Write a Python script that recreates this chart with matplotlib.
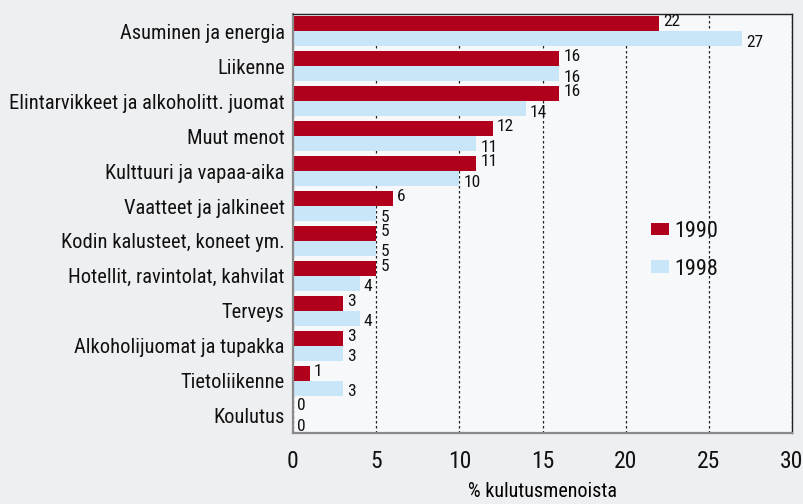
import matplotlib
matplotlib.use("Agg")
import matplotlib.pyplot as plt
from matplotlib import font_manager as fm
import numpy as np

categories = ["Asuminen ja energia", "Liikenne", "Elintarvikkeet ja alkoholitt. juomat",
              "Muut menot", "Kulttuuri ja vapaa-aika", "Vaatteet ja jalkineet",
              "Kodin kalusteet, koneet ym.", "Hotellit, ravintolat, kahvilat",
              "Terveys", "Alkoholijuomat ja tupakka", "Tietoliikenne", "Koulutus"]
v1990 = [22, 16, 16, 12, 11, 6, 5, 5, 3, 3, 1, 0]
v1998 = [27, 16, 14, 11, 10, 5, 5, 4, 4, 3, 3, 0]
xticks = [0, 5, 10, 15, 20, 25, 30]

# pick a narrow font if one is installed
names = {f.name for f in fm.fontManager.ttflist}
family = "DejaVu Sans"
for cand in ["Roboto Condensed", "Liberation Sans Narrow", "Open Sans Condensed",
             "DejaVu Sans Condensed"]:
    if cand in names:
        family = cand
        break
plt.rcParams['font.family'] = family
plt.rcParams['font.stretch'] = "condensed"
plt.rcParams['text.color'] = '#111111'
plt.rcParams['xtick.color'] = '#111111'
plt.rcParams['ytick.color'] = '#111111'

red = '#b0001c'
blue = '#c8e6f8'

fig = plt.figure(figsize=(8.04, 5.04), dpi=100, facecolor='#eeeff1')
ax = fig.add_axes([293/804, (504-433)/504, 499/804, 419/504])
ax.set_facecolor('#f7f8fa')

y = np.arange(len(categories))
h = 0.43
ax.barh(y - h/2, v1990, height=h, color=red, label='1990', zorder=2)
ax.barh(y + h/2, v1998, height=h, color=blue, label='1998', zorder=2)

for yi, a, b in zip(y, v1990, v1998):
    ax.annotate(str(a), (a, yi - h/2), xytext=(3, 1.5), textcoords='offset points',
                va='center', ha='left', fontsize=12.5)
    ax.annotate(str(b), (b, yi + h/2), xytext=(3, -2.5), textcoords='offset points',
                va='center', ha='left', fontsize=12.5)

ax.set_xlim(0, 30)
ax.set_ylim(11.5, -0.5)
ax.set_xticks(xticks)
ax.set_yticks(y, categories)
ax.tick_params(axis='x', length=0, pad=12, labelsize=17)
ax.tick_params(axis='y', length=0, pad=6, labelsize=14.8)
ax.set_xlabel('% kulutusmenoista', fontsize=14.5, labelpad=7)

ax.set_axisbelow(True)
ax.xaxis.grid(True, linestyle=(0, (2, 2)), color='#222222', linewidth=0.9)

for s in ['left', 'bottom']:
    ax.spines[s].set_color('#8a8a8a')
    ax.spines[s].set_linewidth(1.6)
for s in ['top', 'right']:
    ax.spines[s].set_color('#222222')
    ax.spines[s].set_linewidth(1.0)

ax.legend(loc=(0.70, 0.345), frameon=False, handlelength=0.8, handleheight=0.5,
          handletextpad=0.25, labelspacing=0.75, fontsize=16)

fig.savefig('out.png', dpi=100, facecolor=fig.get_facecolor())
